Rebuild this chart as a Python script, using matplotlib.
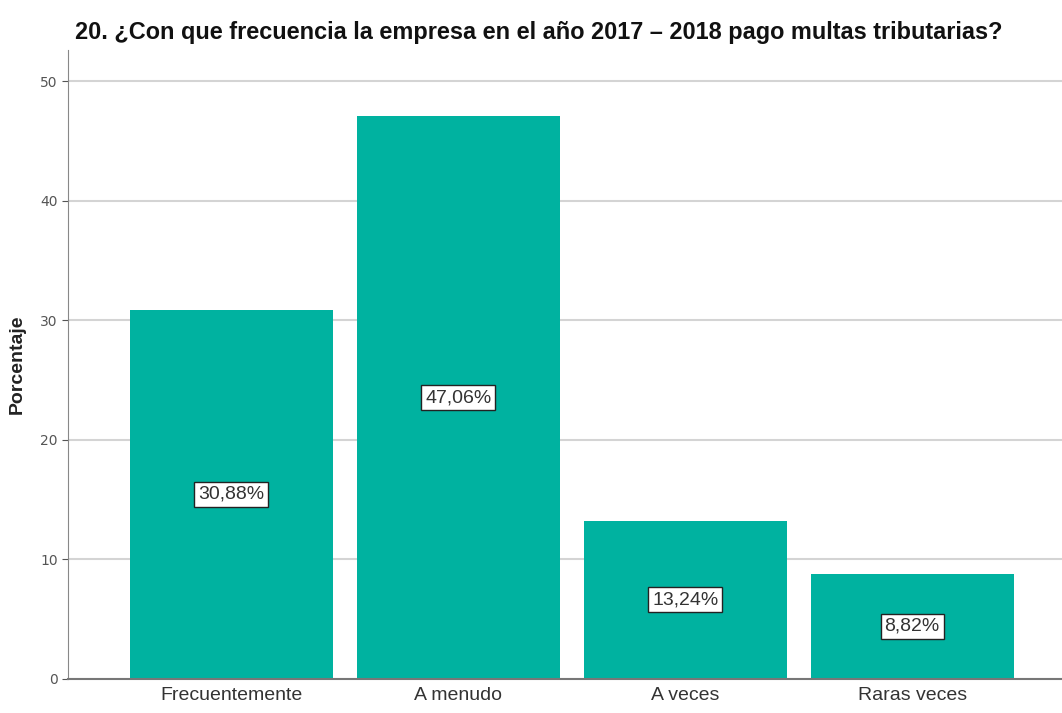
import matplotlib.pyplot as plt
import numpy as np

# Datos
categorias = ['Frecuentemente', 'A menudo', 'A veces', 'Raras veces']
porcentajes = [30.88, 47.06, 13.24, 8.82]
etiquetas = ['30,88%', '47,06%', '13,24%', '8,82%']
yticks = [0, 10, 20, 30, 40, 50]

fuente = ['Liberation Sans', 'DejaVu Sans']

fig = plt.figure(figsize=(10.62, 7.13), dpi=100)
ax = fig.add_axes([68 / 1062, 34 / 713, 1 - 68 / 1062, 629 / 713])

x = np.arange(len(categorias))
ax.bar(x, porcentajes, width=0.894, color='#00B2A0', zorder=2)

for xi, v, t in zip(x, porcentajes, etiquetas):
    ax.text(xi, v / 2, t, ha='center', va='center', fontsize=14, color='#333333',
            family=fuente,
            bbox=dict(boxstyle='square,pad=0.2', fc='white', ec='#222222', lw=1))

ax.set_xlim(-0.72, 3.66)
ax.set_ylim(0, 52.6)
ax.set_yticks(yticks)
ax.set_xticks(x)
ax.set_xticklabels(categorias, fontsize=14, color='#333333', family=fuente)
ax.tick_params(axis='y', labelsize=10, colors='#555555', length=4)
ax.tick_params(axis='x', length=0, pad=6)
ax.yaxis.grid(True, color='#d4d4d4', lw=1.5, zorder=0)
ax.set_axisbelow(True)

for s in ['top', 'right']:
    ax.spines[s].set_visible(False)
ax.spines['left'].set_color('#888888')
ax.spines['bottom'].set_color('#777777')
ax.spines['bottom'].set_linewidth(1.5)

ax.set_ylabel('Porcentaje', fontsize=14, fontweight='bold', color='#222222', labelpad=10,
              family=fuente)
fig.text(75 / 1062, 1 - 32 / 713,
         '20. ¿Con que frecuencia la empresa en el año 2017 – 2018 pago multas tributarias?',
         fontsize=16.9, fontweight='bold', family=fuente, color='#111111', va='center', ha='left')

fig.savefig('out.png', dpi=100)
